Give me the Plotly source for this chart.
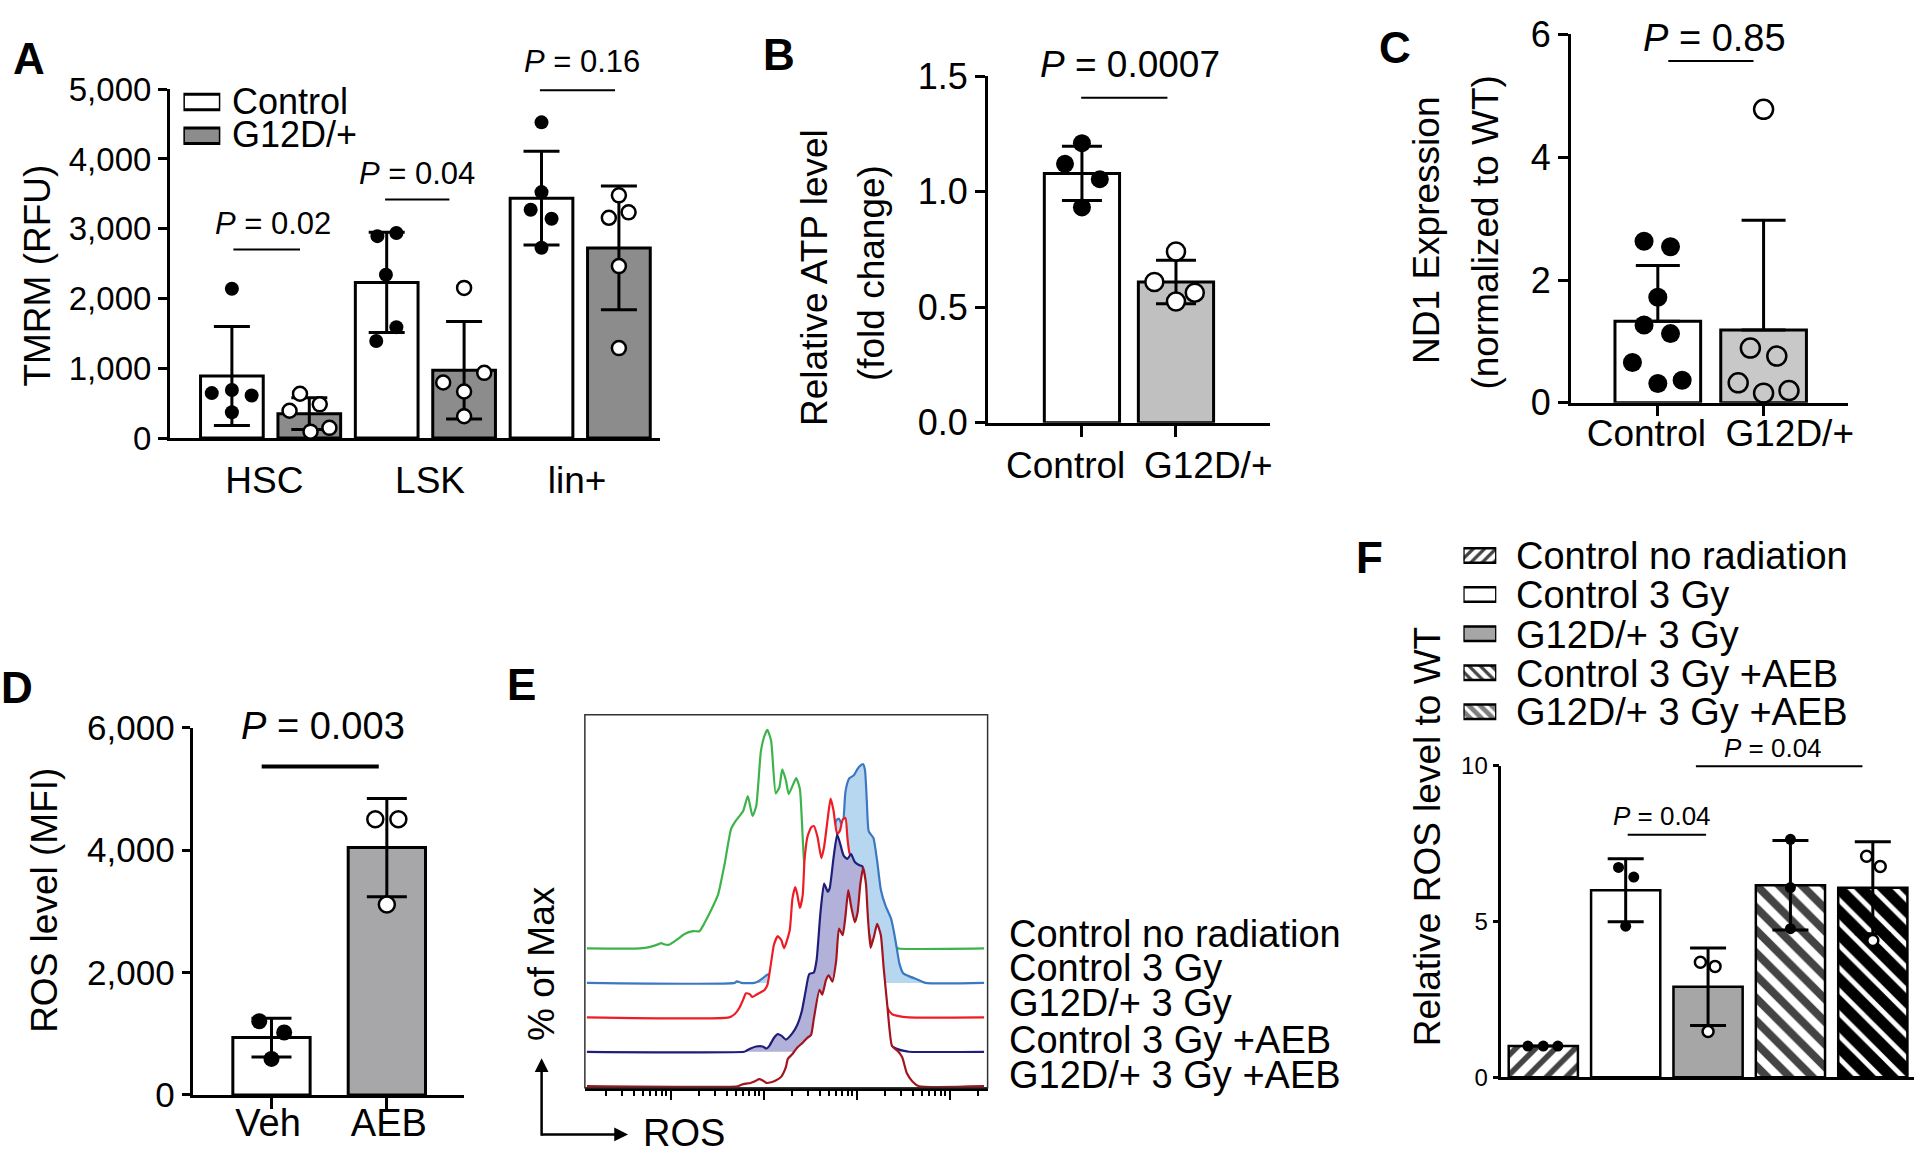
import numpy as np
import plotly.graph_objects as go

W, H = 1920, 1168
FONT = "Liberation Sans, Arial, Helvetica, sans-serif"

# ------------------------------------------------------------------ data
a_categories = ["HSC", "LSK", "lin+"]
a_groups = ["Control", "G12D/+"]
a_control_points = [[2140, 645, 690, 610, 370],
                    [2894, 2940, 2341, 1590, 1392],
                    [4525, 3525, 3272, 3143, 2728]]
a_g12d_points = [[636, 392, 484, 92, 147],
                 [2152, 797, 935, 668, 313],
                 [3479, 3157, 3235, 2465, 1290]]
a_pvalues = ["0.02", "0.04", "0.16"]
a_ticks = [0, 1000, 2000, 3000, 4000, 5000]

b_categories = ["Control", "G12D/+"]
b_points = [[1.210, 1.121, 1.054, 0.932],
            [0.741, 0.609, 0.563, 0.525]]
b_pvalue = "0.0007"
b_ticks = [0.0, 0.5, 1.0, 1.5]

c_categories = ["Control", "G12D/+"]
c_points = [[2.631, 2.542, 1.719, 1.268, 1.127, 0.655, 0.314, 0.367],
            [4.780, 0.891, 0.760, 0.325, 0.157, 0.199]]
c_pvalue = "0.85"
c_ticks = [0, 2, 4, 6]

d_categories = ["Veh", "AEB"]
d_points = [[1203, 1019, 588],
            [4503, 4503, 3111]]
d_pvalue = "0.003"
d_ticks = [0, 2000, 4000, 6000]

e_labels = ["Control no radiation", "Control 3 Gy", "G12D/+ 3 Gy",
            "Control 3 Gy +AEB", "G12D/+ 3 Gy +AEB"]
e_green = [(1.10, 0), (1.67, 0), (1.78, 0.7), (1.86, 1.8), (1.90, 2.4), (1.94, 1.8),
           (1.99, 1.8), (2.08, 4.4), (2.15, 6.6), (2.24, 7.9), (2.31, 7.9), (2.36, 11.3),
           (2.44, 17.9), (2.51, 24.6), (2.58, 38.5), (2.65, 54.7), (2.70, 58.4), (2.78, 62.9),
           (2.83, 69.7), (2.88, 60.6), (2.92, 65.0), (2.97, 90.0), (3.01, 97.4), (3.04, 100),
           (3.08, 95.1), (3.13, 70.9), (3.17, 73.8), (3.20, 81.9), (3.24, 76.8), (3.27, 70.6),
           (3.35, 77.9), (3.39, 72.8), (3.44, 37.5), (3.51, 26.5), (3.61, 20.6), (3.76, 14.7),
           (3.94, 9.0), (4.15, 4.7), (4.33, 1.8), (4.42, 0.7), (4.45, 0), (5.37, 0)]
e_blue = [(1.10, 0), (2.69, 0), (2.71, 0.7), (2.74, 0.4), (2.76, 0), (2.90, 0), (2.95, 0.9),
          (3.01, 2.8), (3.04, 3.7), (3.22, 7.4), (3.36, 19.1), (3.51, 33.8), (3.65, 48.5),
          (3.74, 63.2), (3.78, 74.4), (3.81, 75.1), (3.85, 71.5), (3.88, 87.6), (3.92, 93.5),
          (3.97, 95.0), (4.01, 97.9), (4.04, 99.4), (4.07, 100), (4.09, 97.2), (4.11, 82.5),
          (4.13, 69.3), (4.18, 66.3), (4.22, 55.9), (4.26, 42.6), (4.31, 35.3), (4.37, 29.4),
          (4.40, 23.5), (4.43, 16.2), (4.46, 8.8), (4.50, 4.4), (4.56, 3.1), (4.65, 1.6),
          (4.74, 0), (5.37, 0)]
e_red = [(1.10, 0), (2.63, 0), (2.69, 1.5), (2.74, 4.4), (2.78, 8.1), (2.81, 11.0), (2.85, 10.6),
         (2.88, 9.3), (2.92, 10.3), (2.97, 11.5), (3.01, 12.5), (3.04, 14.7), (3.08, 25.0),
         (3.11, 33.1), (3.15, 37.1), (3.19, 35.3), (3.22, 31.6), (3.28, 39.7), (3.31, 54.4),
         (3.34, 59.6), (3.36, 56.6), (3.39, 50.0), (3.42, 55.9), (3.44, 72.1), (3.47, 82.4),
         (3.51, 86.8), (3.54, 87.5), (3.58, 82.4), (3.62, 72.8), (3.65, 77.9), (3.69, 91.2),
         (3.72, 100), (3.75, 94.9), (3.79, 83.8), (3.82, 85.3), (3.85, 90.4), (3.88, 91.2),
         (3.90, 82.4), (3.92, 75.7), (4.01, 63.2), (4.12, 41.2), (4.22, 20.6), (4.33, 4.4),
         (4.38, 1.5), (4.44, 0.7), (4.56, 0), (5.37, 0)]
e_navy = [(1.10, 0), (2.79, 0), (2.81, 0.4), (2.86, 1.5), (2.92, 2.4), (2.99, 2.4), (3.03, 1.5),
          (3.06, 2.6), (3.11, 6.3), (3.15, 8.1), (3.19, 7.4), (3.24, 5.6), (3.31, 8.5),
          (3.36, 12.1), (3.41, 18.5), (3.45, 27.4), (3.49, 35.5), (3.54, 36.3), (3.57, 42.1),
          (3.61, 63.2), (3.65, 76.9), (3.69, 73.2), (3.71, 74.7), (3.75, 88.2), (3.79, 99.3),
          (3.82, 95.6), (3.86, 89.7), (3.90, 88.2), (3.94, 90.4), (3.98, 86.8), (4.03, 85.3),
          (4.06, 84.9), (4.10, 70.0), (4.15, 40.0), (4.22, 22.0), (4.33, 7.0), (4.38, 2.5),
          (4.44, 1.2), (4.51, 0.4), (4.56, 0), (5.37, 0)]
e_darkred = [(1.10, 0), (2.72, 0), (2.76, 0.7), (2.81, 1.2), (2.86, 1.5), (2.92, 2.6), (2.95, 3.2),
             (2.99, 2.6), (3.03, 1.5), (3.08, 1.8), (3.13, 2.6), (3.19, 4.4), (3.24, 8.8),
             (3.26, 12.5), (3.31, 14.7), (3.36, 17.6), (3.42, 19.9), (3.47, 22.1), (3.51, 23.5),
             (3.54, 30.9), (3.60, 44.1), (3.63, 41.9), (3.67, 48.5), (3.70, 50.7), (3.74, 47.8),
             (3.78, 57.4), (3.81, 72.1), (3.85, 69.1), (3.88, 77.9), (3.91, 89.7), (3.94, 82.4),
             (3.98, 75.0), (4.01, 79.4), (4.04, 92.6), (4.07, 100), (4.10, 92.6), (4.12, 77.9),
             (4.15, 63.2), (4.19, 69.1), (4.22, 74.3), (4.26, 69.1), (4.29, 54.4), (4.33, 36.8),
             (4.38, 18.4), (4.44, 16.2), (4.49, 13.2), (4.54, 5.9), (4.60, 2.2), (4.67, 0),
             (5.37, 0)]

f_groups = ["Control no radiation", "Control 3 Gy", "G12D/+ 3 Gy",
            "Control 3 Gy +AEB", "G12D/+ 3 Gy +AEB"]
f_points = [[1.0, 1.0, 1.0],
            [6.74, 6.43, 4.85],
            [3.69, 3.56, 1.47],
            [7.64, 6.09, 4.77],
            [7.10, 6.77, 4.39]]
f_pvalues = ["0.04", "0.04"]
f_ticks = [0, 5, 10]

# ------------------------------------------------------------------ helpers
def px_x(px):
    return px / W


def px_y(py):
    return 1 - py / H


def mean_sd(groups):
    m = [float(np.mean(g)) for g in groups]
    s = [float(np.std(g, ddof=1)) if len(g) > 1 else 0.0 for g in groups]
    return m, s


def bar_trace(x, means, sds, colors, xa, ya, width, capw, minus=None, lw=3, pattern=None):
    err = dict(type="data", array=sds, visible=True, color="black", thickness=3, width=capw)
    if minus is not None:
        err.update(symmetric=False, arrayminus=minus)
    marker = dict(color=colors, line=dict(color="black", width=lw))
    if pattern is not None:
        marker["pattern"] = pattern
    return go.Bar(x=x, y=means, width=width, marker=marker, error_y=err, xaxis=xa, yaxis=ya,
                  showlegend=False, cliponaxis=False, hoverinfo="skip")


def pts_trace(x, y, filled, size, xa, ya, lw=2.5, fill="white"):
    return go.Scatter(x=x, y=y, mode="markers",
                      marker=dict(symbol="circle", size=size,
                                  color="black" if filled else fill,
                                  line=dict(color="black", width=0 if filled else lw)),
                      xaxis=xa, yaxis=ya, showlegend=False, cliponaxis=False, hoverinfo="skip")


def y_axis(top, bottom, rng, tickvals, ticktext, fs, ticklen, anchor, lw=3):
    return dict(domain=[px_y(bottom), px_y(top)], range=rng, tickmode="array",
                tickvals=tickvals, ticktext=ticktext, showline=True, linewidth=lw,
                linecolor="black", ticks="outside", ticklen=ticklen, tickwidth=lw,
                tickcolor="black", showgrid=False, zeroline=False,
                tickfont=dict(family=FONT, size=fs, color="black"), anchor=anchor,
                fixedrange=True)


def x_axis(left, right, rng, labelvals, ticktext, fs, anchor, standoff=0, lw=3,
           markvals=None, marklen=11, labels=True):
    ax = dict(domain=[px_x(left), px_x(right)], range=rng, tickmode="array",
              tickvals=labelvals, ticktext=ticktext, showline=True, linewidth=lw,
              linecolor="black", ticks="", ticklen=0, showgrid=False, zeroline=False,
              showticklabels=labels, ticklabelstandoff=standoff, tickangle=0,
              tickfont=dict(family=FONT, size=fs, color="black"), anchor=anchor,
              fixedrange=True)
    if markvals:
        ax["minor"] = dict(tickmode="array", tickvals=markvals, ticks="outside",
                           ticklen=marklen, tickwidth=lw, tickcolor="black", showgrid=False)
    return ax


annotations = []


def text(px, py, s, size, xanchor="center", angle=0, bold=False):
    annotations.append(dict(xref="paper", yref="paper", x=px_x(px), y=px_y(py),
                            text=("<b>%s</b>" % s) if bold else s, showarrow=False,
                            xanchor=xanchor, yanchor="middle", textangle=angle,
                            font=dict(family=FONT, size=size, color="black")))


def sig_line(xa, ya, x0, x1, y, w=2):
    annotations.append(dict(xref=xa, yref=ya, axref=xa, ayref=ya, x=x1, y=y, ax=x0, ay=y,
                            text="", showarrow=True, arrowhead=0, arrowwidth=w,
                            arrowcolor="black", standoff=0, startstandoff=0))


fig = go.Figure()
layout = {}

# ------------------------------------------------------------------ Panel A
a_x_ctrl = [1, 3, 5]
a_x_g12d = [2, 4, 6]
a_jit_ctrl = [[0, -0.26, 0, 0.255, 0], [-0.12, 0.125, -0.01, 0.125, -0.135], [0, 0, -0.14, 0.13, 0]]
a_jit_g12d = [[-0.12, -0.255, 0.135, 0.016, 0.26], [0, -0.27, 0.26, 0, 0], [0, -0.13, 0.125, 0, 0]]
am_c, as_c = mean_sd(a_control_points)
am_g, as_g = mean_sd(a_g12d_points)
fig.add_trace(bar_trace(a_x_ctrl, am_c, as_c, "white", "x", "y", 0.81, 18))
fig.add_trace(bar_trace(a_x_g12d, am_g, as_g, "#8c8c8c", "x", "y", 0.81, 18))
for i in range(3):
    fig.add_trace(pts_trace([a_x_ctrl[i] + j for j in a_jit_ctrl[i]], a_control_points[i],
                            True, 14, "x", "y"))
    fig.add_trace(pts_trace([a_x_g12d[i] + j for j in a_jit_g12d[i]], a_g12d_points[i],
                            False, 14, "x", "y"))
layout["yaxis"] = y_axis(71.7, 433.3, [0, 5000], a_ticks, ["{:,}".format(v) for v in a_ticks],
                         33, 9, "x")
layout["xaxis"] = x_axis(170.5, 662, [0.2, 6.53], [1.42, 3.56, 5.46], a_categories, 37, "y",
                         standoff=8)
text(38, 265, "TMRM (RFU)", 37, angle=-90)
text(29, 40, "A", 44, bold=True)
a_sig = [(1.0, 1.88, 2701, 273.5, 211), (2.96, 3.81, 3420, 418, 159), (4.96, 5.95, 4983, 584, 43)]
for (x0, x1, yl, tx, ty), p in zip(a_sig, a_pvalues):
    sig_line("x", "y", x0, x1, yl, 2)
    text(tx, ty, "<i>P</i> = " + p, 31)
fig.add_trace(go.Bar(y=[0, 1], x=[1, 1], base=0, orientation="h", width=0.46,
                     marker=dict(color=["white", "#8c8c8c"], line=dict(color="black", width=3)),
                     xaxis="x7", yaxis="y7", showlegend=False, cliponaxis=False,
                     hoverinfo="skip"))
layout["xaxis7"] = dict(domain=[px_x(184), px_x(221)], range=[0, 1], visible=False,
                        anchor="y7", fixedrange=True)
layout["yaxis7"] = dict(domain=[px_y(137.5), px_y(67.5)], range=[1.5, -0.5], visible=False,
                        anchor="x7", fixedrange=True)
for k, g in enumerate(a_groups):
    text(231, 84 + 35 * k, g, 36, xanchor="left")

# ------------------------------------------------------------------ Panel B
b_x = [1, 2]
b_jit = [[0, -0.18, 0.19, 0], [0, -0.23, 0.2, 0]]
bm, bs = mean_sd(b_points)
fig.add_trace(bar_trace(b_x, bm, bs, ["white", "#c0c0c0"], "x2", "y2", 0.8, 20))
for i in range(2):
    fig.add_trace(pts_trace([b_x[i] + j for j in b_jit[i]], b_points[i], i == 0, 18, "x2", "y2"))
layout["yaxis2"] = y_axis(58.3, 417.3, [0, 1.5], b_ticks, ["%.1f" % v for v in b_ticks], 36,
                          10, "x2")
layout["xaxis2"] = x_axis(991, 1274, [0, 3], [0.827, 2.343], b_categories, 37, "y2",
                          standoff=8, markvals=b_x, marklen=11)
text(817, 267, "Relative ATP level", 37, angle=-90)
text(875, 262, "(fold change)", 37, angle=-90)
text(781, 36, "B", 44, bold=True)
sig_line("x2", "y2", 0.976, 1.909, 1.407, 2)
text(1134, 46, "<i>P</i> = " + b_pvalue, 37)

# ------------------------------------------------------------------ Panel C
c_x = [1, 2]
c_jit = [[-0.13, 0.12, 0, -0.13, 0.12, -0.24, 0, 0.23], [0, -0.125, 0.125, -0.24, 0, 0.24]]
cm, cs = mean_sd(c_points)
fig.add_trace(bar_trace(c_x, cm, cs, ["white", "#c8c8c8"], "x3", "y3", 0.81, 22, minus=[0, 0]))
fig.add_trace(pts_trace([c_x[0] + j for j in c_jit[0]], c_points[0], True, 19, "x3", "y3"))
fig.add_trace(pts_trace([c_x[1] + j for j in c_jit[1]], c_points[1], False, 19, "x3", "y3",
                        fill="rgba(0,0,0,0)"))
layout["yaxis3"] = y_axis(15, 396.7, [0, 6], c_ticks, [str(v) for v in c_ticks], 36, 10, "x3")
layout["xaxis3"] = x_axis(1576, 1854, [0.18, 2.8], [0.892, 2.247], c_categories, 37, "y3",
                          standoff=-4, markvals=c_x, marklen=10)
text(1431, 218, "ND1 Expression", 37, angle=-90)
text(1490, 220, "(normalized to WT)", 37, angle=-90)
text(1399, 29, "C", 44, bold=True)
sig_line("x3", "y3", 1.085, 1.905, 5.566, 2)
text(1720, 19, "<i>P</i> = " + c_pvalue, 38)

# ------------------------------------------------------------------ Panel D
d_x = [1, 2]
d_jit = [[-0.106, 0.11, 0], [-0.1, 0.1, 0]]
dm, ds = mean_sd(d_points)
fig.add_trace(bar_trace(d_x, dm, ds, ["white", "#a7a7aa"], "x4", "y4", 0.67, 20))
for i in range(2):
    fig.add_trace(pts_trace([d_x[i] + j for j in d_jit[i]], d_points[i], i == 0, 16, "x4", "y4"))
layout["yaxis4"] = y_axis(733.3, 1114, [0, 6000], d_ticks, ["{:,}".format(v) for v in d_ticks],
                          35, 8, "x4")
layout["xaxis4"] = x_axis(193.3, 465, [0.317, 2.665], [0.97, 2.017], d_categories, 38, "y4",
                          standoff=-7, markvals=d_x, marklen=11)
text(45, 912, "ROS level (MFI)", 37, angle=-90)
text(17, 692, "D", 44, bold=True)
sig_line("x4", "y4", 0.902, 1.93, 5363, 4)
text(324.5, 732, "<i>P</i> = " + d_pvalue, 38)

# ------------------------------------------------------------------ Panel E
e_series = [e_green, e_blue, e_red, e_navy, e_darkred]          # back to front
e_line = ["#3cb44b", "#3b78c2", "#ee1c25", "#1f1f7a", "#a3141f"]
e_fill = ["white", "#b7d7f1", "white", "#b1b1d9", "white"]
e_offset = [63.0, 47.25, 31.5, 15.75, 0.0]
for pts, lc, fc, off in zip(e_series, e_line, e_fill, e_offset):
    xs = [p[0] for p in pts]
    ys = [p[1] + off for p in pts]
    fig.add_trace(go.Scatter(x=xs, y=ys, mode="lines", fill="toself", fillcolor=fc,
                             line=dict(color=lc, width=2.2, shape="spline", smoothing=0.5),
                             xaxis="x5", yaxis="y5", showlegend=False, hoverinfo="skip"))
e_xrange = [1.078, 5.408]
e_minor = [d + np.log10(k) for d in range(1, 6) for k in range(2, 10)
           if e_xrange[0] < d + np.log10(k) < e_xrange[1]]
layout["xaxis5"] = dict(domain=[px_x(586.7), px_x(990.7)], range=e_xrange, showline=True,
                        linewidth=3, linecolor="black", ticks="outside", tickmode="array",
                        tickvals=[2, 3, 4, 5], ticklen=9, tickwidth=2, tickcolor="black",
                        showticklabels=False, showgrid=False, zeroline=False, anchor="y5",
                        minor=dict(tickmode="array", tickvals=e_minor, ticks="outside",
                                   ticklen=5, tickwidth=1.5, tickcolor="black", showgrid=False),
                        fixedrange=True)
layout["yaxis5"] = dict(domain=[px_y(1106.7), px_y(720)], range=[-0.75, 169.9], visible=False,
                        anchor="x5", fixedrange=True)
shapes = [dict(type="rect", xref="x5 domain", yref="y5 domain", x0=0, x1=1, y0=0, y1=1,
               line=dict(color="#333333", width=1.5), fillcolor="rgba(0,0,0,0)", layer="above")]
for k, lab in enumerate(e_labels):
    text(1010, [947, 983, 1019, 1057, 1093][k], lab, 38, xanchor="left")
text(543, 978, "% of Max", 37, angle=-90)
text(523, 689, "E", 44, bold=True)
annotations.append(dict(xref="paper", yref="paper", x=px_x(543.3), y=px_y(1076), ax=0, ay=79,
                        text="", showarrow=True, arrowhead=2, arrowsize=1.1, arrowwidth=2.5,
                        arrowcolor="black", standoff=0, startstandoff=0))
annotations.append(dict(xref="paper", yref="paper", x=px_x(630), y=px_y(1155), ax=-88, ay=0,
                        text="", showarrow=True, arrowhead=2, arrowsize=1.1, arrowwidth=2.5,
                        arrowcolor="black", standoff=0, startstandoff=0))
text(643, 1153, "ROS", 38, xanchor="left")

# ------------------------------------------------------------------ Panel F
f_x = [1, 2, 3, 4, 5]
f_jit = [[-0.187, 0, 0.177], [-0.087, 0.098, 0], [-0.093, 0.085, 0], [0, 0, 0], [-0.075, 0.09, 0]]
f_bg = ["white", "white", "#a6a6a6", "white", "black"]
f_fg = ["#8c8c8c", "black", "black", "black", "#8c8c8c"]
f_shape = ["/", "", "", "\\", "\\"]
f_solid = [0.4, 0.3, 0.3, 0.5, 0.3]
fm, fs_ = mean_sd(f_points)
fig.add_trace(bar_trace(f_x, fm, fs_, f_bg, "x6", "y6", 0.84, 18, lw=2.5,
                        pattern=dict(shape=f_shape, fgcolor=f_fg, bgcolor=f_bg, fgopacity=1,
                                     size=[14, 14, 14, 16, 16], solidity=f_solid,
                                     fillmode="overlay")))
for i in range(5):
    fig.add_trace(pts_trace([f_x[i] + j for j in f_jit[i]], f_points[i], i in (0, 1, 3), 11,
                            "x6", "y6", lw=2.5))
layout["yaxis6"] = y_axis(773, 1095.7, [0, 10], f_ticks, [str(v) for v in f_ticks], 24, 6, "x6",
                          lw=2.5)
layout["xaxis6"] = x_axis(1506, 1920, [0.49, 5.5], [], [], 24, "y6", labels=False, lw=2.5)
text(1431.5, 847, "Relative ROS level to WT", 37, angle=-90)
text(1373.5, 557, "F", 44, bold=True)
sig_line("x6", "y6", 2.834, 4.874, 9.99, 2)
text(1779, 755, "<i>P</i> = " + f_pvalues[1], 26)
sig_line("x6", "y6", 2.006, 2.976, 7.79, 2)
text(1667.5, 825, "<i>P</i> = " + f_pvalues[0], 26)
f_sw_bg = ["white", "white", "#a6a6a6", "white", "#7f7f7f"]
f_sw_fg = ["black", "black", "black", "black", "#b8b8b8"]
fig.add_trace(go.Bar(y=[0, 1, 2, 3, 4], x=[1] * 5, base=0, orientation="h", width=0.37,
                     marker=dict(color=f_sw_bg, line=dict(color="black", width=2.5),
                                 pattern=dict(shape=f_shape, fgcolor=f_sw_fg, bgcolor=f_sw_bg,
                                              fgopacity=1, size=8, solidity=0.4,
                                              fillmode="overlay")),
                     xaxis="x8", yaxis="y8", showlegend=False, cliponaxis=False,
                     hoverinfo="skip"))
layout["xaxis8"] = dict(domain=[px_x(1468), px_x(1501)], range=[0, 1], visible=False,
                        anchor="y8", fixedrange=True)
layout["yaxis8"] = dict(domain=[px_y(737.25), px_y(534.75)], range=[4.5, -0.5], visible=False,
                        anchor="x8", fixedrange=True)
for k, g in enumerate(f_groups):
    text(1519, [555, 596, 637, 678, 717][k], g, 38, xanchor="left")

fig.update_layout(width=W, height=H, autosize=False, margin=dict(l=0, r=0, t=0, b=0),
                  paper_bgcolor="white", plot_bgcolor="rgba(0,0,0,0)", barmode="overlay",
                  showlegend=False, annotations=annotations, shapes=shapes,
                  font=dict(family=FONT, color="black"), **layout)
fig.write_html("out.html", include_plotlyjs=True, config={"displayModeBar": False},
               post_script="document.body.style.margin='0px';document.body.style.overflow='hidden';")
